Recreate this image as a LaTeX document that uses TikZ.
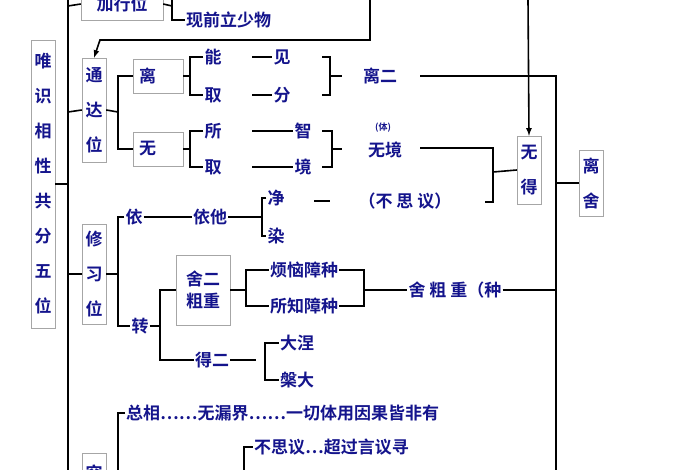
\documentclass[tikz,border=0pt]{standalone}
\usepackage{fontspec}
\setmainfont{Noto Sans CJK SC}[BoldFont=* Bold]
\usetikzlibrary{positioning}
\definecolor{ink}{HTML}{14148C}
\tikzset{
  txt/.style={text=ink,font=\bfseries\fontsize{17}{18}\selectfont,inner sep=1pt},
  box/.style={txt,draw=gray!70,fill=white,inner sep=3pt},
  vbox/.style={box,align=center,text width=18pt,font=\bfseries\fontsize{17}{35}\selectfont},
  ln/.style={black,line width=1.6pt}
}
\begin{document}
\begin{tikzpicture}[x=1pt,y=-1pt]
    \fill[white] (0,0) rectangle (700,470);
    \useasboundingbox (0,0) rectangle (700,470);
    % main spine
    \draw[ln] (68,0) -- (68,470);
    \node[vbox,minimum height=288pt] (wei) at (43,184) {唯\\识\\相\\性\\共\\分\\五\\位};
    \draw[ln] (wei.east) -- (68,184);
    % jia xing wei
    \node[box,minimum width=82pt,minimum height=32pt] (jia) at (122,4) {加行位};
    \draw[ln] (68,6) -- (jia.west);
    \draw[ln] (jia.east) -- (172,6) -- (172,0);
    \node[txt,right] (xian) at (185,20) {现前立少物};
    \draw[ln] (172,6) |- (xian.west);
    % arrows from top
    \coordinate (topa) at (370,0);
    \coordinate (topb) at (528,0);
    \node[vbox,minimum height=104pt] (tong) at (94,110) {通\\达\\位};
    \draw[ln,-latex] (topa) |- (100,40) -- (tong.north);
    \draw[ln] (68,112) -- (tong.west);
    \node[box,minimum width=50pt,minimum height=34pt,text width=38pt] (li) at (158,76) {离};
    \node[box,minimum width=50pt,minimum height=34pt,text width=38pt] (wu) at (158,149) {无};
    \draw[ln] (tong.east) -- (118,112);
    \draw[ln] (li.west) -| (118,112) |- (wu.west);
    % li branch
    \node[txt] (neng) at (213,57) {能};
    \node[txt] (qu1) at (213,95) {取};
    \draw[ln] (li.east) -- (190,76);
    \draw[ln] (neng.west) -| (190,95) -- (qu1.west);
    \node[txt] (jian) at (282,57) {见};
    \node[txt] (fen) at (282,95) {分};
    \draw[ln] (252,57) -- (jian.west);
    \draw[ln] (252,95) -- (fen.west);
    \draw[ln] (322,57) -- (330,57) -- (330,95) -- (322,95);
    \node[txt] (lier) at (380,76) {离二};
    \draw[ln] (330,76) -- (342,76);
    \node[vbox,minimum height=66pt] (lishe) at (591,183) {离\\舍};
    \draw[ln] (420,76) -| (556,470);
    \draw[ln] (556,183) -- (lishe.west);
    % wu branch
    \node[txt] (suo) at (213,131) {所};
    \node[txt] (qu2) at (213,167) {取};
    \draw[ln] (wu.east) -- (190,149);
    \draw[ln] (suo.west) -| (190,167) -- (qu2.west);
    \node[txt] (zhi) at (303,131) {智};
    \node[txt] (jing) at (303,167) {境};
    \draw[ln] (252,131) -- (zhi.west);
    \draw[ln] (252,167) -- (jing.west);
    \draw[ln] (322,131) -- (332,131) -- (332,167) -- (322,167);
    \node[txt] (wujing) at (385,150) {无境};
    \node[txt,font=\bfseries\fontsize{9}{9}\selectfont] (ti) at (383,128) {(体)};
    \draw[ln] (332,149) -- (342,149);
    \node[vbox,minimum height=68pt] (wude) at (529,170) {无\\得};
    \draw[ln,-latex] (topb) -- (wude.north);
    \node[txt] (busi) at (405,201) {（不 思 议）};
    \draw[ln] (420,148) -| (493,202) -- (485,202);
    \draw[ln] (493,172) -- (wude.west);
    \draw[ln] (314,201) -- (330,201);
    % xiu xi wei
    \node[vbox,minimum height=100pt] (xiu) at (94,274) {修\\习\\位};
    \draw[ln] (68,274) -- (xiu.west);
    \node[txt] (yi) at (134,217) {依};
    \node[txt] (yita) at (210,217) {依他};
    \node[txt] (zhuan) at (140,326) {转};
    \draw[ln] (xiu.east) -- (118,274);
    \draw[ln] (yi.west) -| (118,274) |- (zhuan.west);
    \draw[ln] (yi.east) -- (yita.west);
    \node[txt] (jingx) at (276,198) {净};
    \node[txt] (ran) at (276,236) {染};
    \draw[ln] (yita.east) -- (262,217);
    \draw[ln] (jingx.west) -| (262,236) -- (ran.west);
    \node[box,text width=48pt,align=center,minimum height=70pt] (she) at (203,290) {舍二\\[4pt]粗重};
    \node[txt] (de) at (212,360) {得二};
    \draw[ln] (zhuan.east) -- (160,326);
    \draw[ln] (she.west) -| (160,326) |- (de.west);
    \node[txt] (fan) at (304,270) {烦恼障种};
    \node[txt] (suozhi) at (304,306) {所知障种};
    \draw[ln] (she.east) -- (246,290);
    \draw[ln] (fan.west) -| (246,306) -- (suozhi.west);
    \draw[ln] (fan.east) -| (364,306) -- (suozhi.east);
    \node[txt] (shecu) at (455,290) {舍 粗 重（种};
    \draw[ln] (364,290) -- (shecu.west);
    \draw[ln] (shecu.east) -- (556,290);
    \node[txt] (da) at (297,343) {大涅};
    \node[txt] (pan) at (297,380) {槃大};
    \draw[ln] (de.east) -- (256,360);
    \draw[ln] (da.west) -| (265,380) -- (pan.west);
    % jiu jing wei
    \node[vbox,minimum height=40pt,anchor=north] (jiu) at (94,453) {究};
    \node[txt,right] (zong) at (125,413) {总相……无漏界……一切体用因果皆非有};
    \node[txt,right] (bus) at (253,447) {不思议…超过言议寻};
    \draw[ln] (zong.west) -| (118,470);
    \draw[ln] (bus.west) -| (244,470);
\end{tikzpicture}
\end{document}
